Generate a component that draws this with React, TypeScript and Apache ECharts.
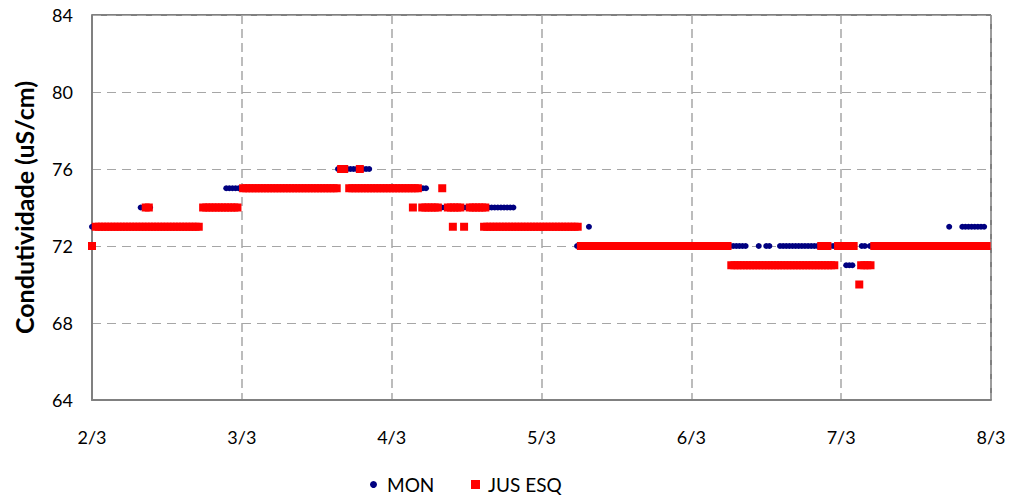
import React, { useEffect, useRef } from "react";
import * as echarts from "echarts";

// Time axis in hours from 2/3 00:00; one label per day.
const dayLabels = ["2/3", "3/3", "4/3", "5/3", "6/3", "7/3", "8/3"];
const yTicks = [64, 68, 72, 76, 80, 84];

// Logger readings sampled every half hour, stored as constant runs:
// [first hour, last hour, conductivity uS/cm]
const SAMPLE_STEP = 0.5;

const monRuns: [number, number, number][] = [
  [0, 7.5, 73],
  [7.8, 9.3, 74],
  [10, 17, 73],
  [18, 21, 74],
  [21.5, 39, 75],
  [39.4, 44.4, 76],
  [45, 53.5, 75],
  [54, 67.9, 74],
  [68.5, 77.2, 73],
  [77.7, 104.8, 72],
  [79.6, 79.6, 73],
  [106.8, 106.8, 72],
  [108, 108.9, 72],
  [110.2, 118.7, 72],
  [119.2, 120.4, 72],
  [120.8, 122.1, 71],
  [123.3, 124.1, 72],
  [124.6, 137, 72],
  [137.3, 137.3, 73],
  [137.8, 139, 72],
  [139.4, 143.2, 73],
];

const jusEsqRuns: [number, number, number][] = [
  [0, 0, 72],
  [0.6, 17.1, 73],
  [8.6, 9.5, 74],
  [17.8, 23.5, 74],
  [24.2, 39.4, 75],
  [39.9, 40.5, 76],
  [41.2, 52.5, 75],
  [42.9, 42.9, 76],
  [51.4, 51.4, 74],
  [52.9, 55.4, 74],
  [56.1, 56.4, 75],
  [57, 59.1, 74],
  [60.5, 63.4, 74],
  [57.8, 57.8, 73],
  [59.6, 59.9, 73],
  [62.8, 77.8, 73],
  [78.3, 101.9, 72],
  [102.4, 118.9, 71],
  [116.8, 117.9, 72],
  [119.5, 122.2, 72],
  [122.9, 122.9, 70],
  [123.2, 124.8, 71],
  [125.3, 143.4, 72],
];

function toPoints(runs: [number, number, number][]): [number, number][] {
  const pts: [number, number][] = [];
  for (const [start, end, value] of runs) {
    for (let h = start; h <= end + 1e-9; h += SAMPLE_STEP) {
      pts.push([+h.toFixed(2), value]);
    }
  }
  return pts;
}

const FONT = "Lato, 'Open Sans', sans-serif";

export default function App() {
  const ref = useRef<HTMLDivElement>(null);

  useEffect(() => {
    if (!ref.current) return;
    const chart = echarts.init(ref.current, undefined, { renderer: "svg" });
    chart.setOption({
      animation: false,
      backgroundColor: "#ffffff",
      textStyle: { fontFamily: FONT },
      grid: {
        left: 92,
        right: 21,
        top: 15,
        bottom: 99,
        show: true,
        borderColor: "#000000",
        borderWidth: 1,
      },
      legend: [
        {
          data: ["MON"],
          left: 365,
          top: 470,
          itemWidth: 7,
          itemHeight: 7,
          icon: "circle",
          textStyle: { fontFamily: FONT, fontSize: 19, color: "#000", padding: [0, 0, 0, 5] },
        },
        {
          data: ["JUS ESQ"],
          left: 466,
          top: 470,
          itemWidth: 9,
          itemHeight: 9,
          icon: "rect",
          textStyle: { fontFamily: FONT, fontSize: 19, color: "#000", padding: [0, 0, 0, 3] },
        },
      ],
      xAxis: {
        type: "value",
        min: 0,
        max: (dayLabels.length - 1) * 24,
        interval: 24,
        axisLine: { show: true, lineStyle: { color: "#808080", width: 2 } },
        axisTick: { show: false },
        axisLabel: {
          color: "#000",
          fontSize: 18,
          fontFamily: FONT,
          margin: 28,
          formatter: (v: number) => dayLabels[Math.round(v / 24)] ?? "",
        },
        splitLine: {
          show: true,
          lineStyle: { color: "#a6a6a6", width: 1.5, type: [9, 5] },
        },
      },
      yAxis: {
        type: "value",
        min: yTicks[0],
        max: yTicks[yTicks.length - 1],
        interval: 4,
        name: "Condutividade (uS/cm)",
        nameLocation: "middle",
        nameGap: 56,
        nameTextStyle: { fontFamily: FONT, fontSize: 25, fontWeight: "bold", color: "#000" },
        axisLine: { show: true, lineStyle: { color: "#808080", width: 2 } },
        axisTick: { show: false },
        axisLabel: { color: "#000", fontSize: 18, fontFamily: FONT, margin: 19 },
        splitLine: {
          show: true,
          lineStyle: { color: "#a6a6a6", width: 1, type: [9, 6] },
        },
      },
      series: [
        {
          name: "MON",
          type: "scatter",
          symbol: "circle",
          symbolSize: 6,
          itemStyle: { color: "#000080", opacity: 1 },
          data: toPoints(monRuns),
          z: 2,
        },
        {
          name: "JUS ESQ",
          type: "scatter",
          symbol: "rect",
          symbolSize: 8,
          itemStyle: { color: "#ff0000", opacity: 1 },
          data: toPoints(jusEsqRuns),
          z: 3,
        },
      ],
    });
    return () => chart.dispose();
  }, []);

  return (
    <div
      ref={ref}
      style={{ position: "fixed", left: 0, top: 0, width: 1012, height: 499 }}
    />
  );
}
